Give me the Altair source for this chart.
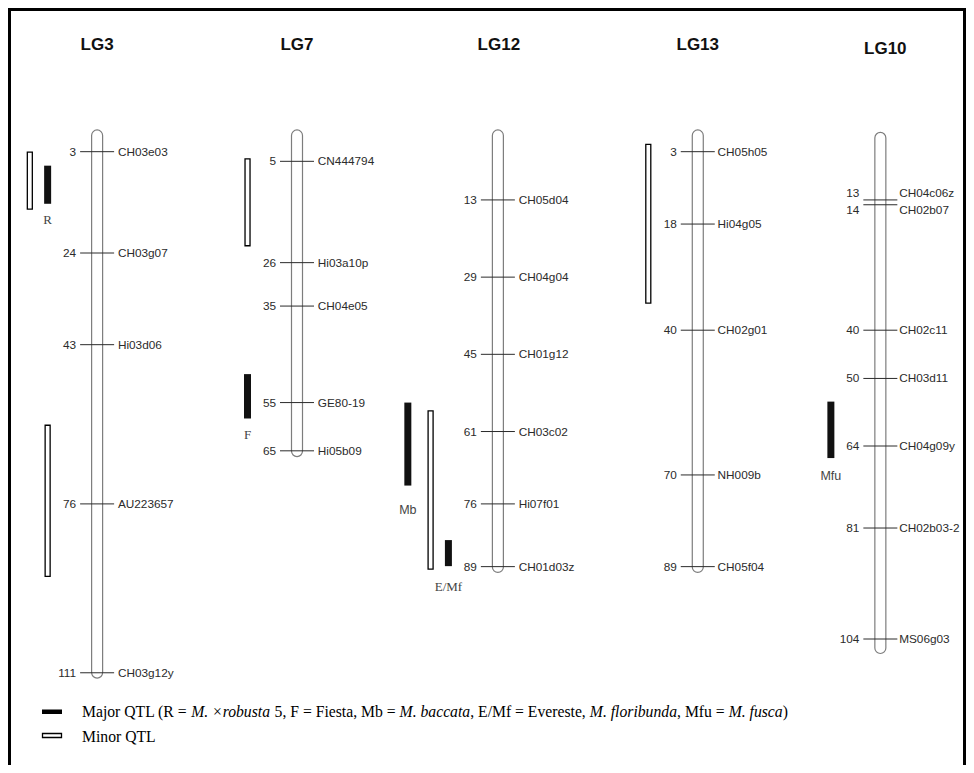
import altair as alt
import pandas as pd

# ---------------- data ----------------
LGS = ["LG3", "LG7", "LG12", "LG13", "LG10"]

LG3_POS = [3, 24, 43, 76, 111]
LG3_NAMES = ["CH03e03", "CH03g07", "Hi03d06", "AU223657", "CH03g12y"]
LG7_POS = [5, 26, 35, 55, 65]
LG7_NAMES = ["CN444794", "Hi03a10p", "CH04e05", "GE80-19", "Hi05b09"]
LG12_POS = [13, 29, 45, 61, 76, 89]
LG12_NAMES = ["CH05d04", "CH04g04", "CH01g12", "CH03c02", "Hi07f01", "CH01d03z"]
LG13_POS = [3, 18, 40, 70, 89]
LG13_NAMES = ["CH05h05", "Hi04g05", "CH02g01", "NH009b", "CH05f04"]
LG10_POS = [13, 14, 40, 50, 64, 81, 104]
LG10_NAMES = ["CH04c06z", "CH02b07", "CH02c11", "CH03d11", "CH04g09y", "CH02b03-2", "MS06g03"]

# chromosome extents (cM)
CHR_START = [-1.5, -1.5, -1.5, -1.5, -1.0]
CHR_END = [112.1, 66.2, 90.2, 90.2, 107.0]

# QTL intervals (cM)
QTL_LG = ["LG3", "LG3", "LG3", "LG7", "LG7", "LG12", "LG12", "LG12", "LG13", "LG10"]
QTL_TYPE = ["Minor", "Major", "Minor", "Minor", "Major", "Major", "Minor", "Major", "Minor", "Major"]
QTL_START = [3.1, 5.9, 59.7, 4.5, 49.1, 55.0, 56.7, 83.5, 1.5, 54.8]
QTL_END = [14.9, 13.8, 91.0, 22.5, 58.3, 72.2, 89.5, 88.9, 34.4, 66.5]
QTL_LABEL = ["", "R", "", "", "F", "Mb", "", "E/Mf", "", "Mfu"]
QTL_LANE = [1, 0, 0, 0, 0, 2, 1, 0, 0, 0]

LEGEND_MAJOR = [
    ("Major QTL (R = ", False), ("M. \u00d7robusta", True), (" 5, F = Fiesta, Mb = ", False),
    ("M. baccata", True), (", E/Mf = Evereste, ", False), ("M. floribunda", True),
    (", Mfu = ", False), ("M. fusca", True), (")", False),
]
LEGEND_MINOR = "Minor QTL"

# ---------------- layout / style ----------------
W, H = 958, 757
PX_PER_CM = 4.825
Y_ZERO = 129.2  # chart-px of 0 cM
Y0 = -Y_ZERO / PX_PER_CM
Y1 = (H - Y_ZERO) / PX_PER_CM
LG_X = {"LG3": 85, "LG7": 287, "LG12": 490, "LG13": 692, "LG10": 876.5}
TITLE_DX = {"LG3": 0, "LG7": 0, "LG12": 1, "LG13": 0, "LG10": 5}
TITLE_Y = {"LG3": 37, "LG7": 37, "LG12": 37, "LG13": 37, "LG10": 41}
NAME_DX = {"LG3": 21, "LG7": 21, "LG12": 21, "LG13": 20, "LG10": 19}
LANE_DX = {0: -50, 1: -68, 2: -91}
LABEL_NUDGE = {("LG10", 13): -7, ("LG10", 14): 5}
QTL_LABEL_DY = {"R": 16, "F": 17, "Mb": 24, "E/Mf": 21, "Mfu": 18}
QTL_LABEL_FONT = {"R": "serif", "F": "serif", "Mb": "sans", "E/Mf": "serif", "Mfu": "sans"}
SANS = "Liberation Sans"
SERIF = "Liberation Serif"
INK = "#2b2b2b"
MK_FS = 11.8

YS = alt.Scale(domain=[Y0, Y1], reverse=True, nice=False, zero=False)
XS = alt.Scale(domain=[0, W], range=[0, W], nice=False, zero=False)

# ---------------- tables ----------------
rows = []
for lg, pos, names in zip(LGS, [LG3_POS, LG7_POS, LG12_POS, LG13_POS, LG10_POS],
                          [LG3_NAMES, LG7_NAMES, LG12_NAMES, LG13_NAMES, LG10_NAMES]):
    for p, n in zip(pos, names):
        nud = LABEL_NUDGE.get((lg, p), 0)
        rows.append({"lg": lg, "cx": LG_X[lg], "nx": LG_X[lg] + NAME_DX[lg], "pos": p,
                     "num": str(p), "name": n, "ly": p + nud / PX_PER_CM})
markers = pd.DataFrame(rows)

chrom = pd.DataFrame({"lg": LGS, "start": CHR_START, "end": CHR_END})
chrom["cx"] = chrom["lg"].map(LG_X)

qtl = pd.DataFrame({"lg": QTL_LG, "type": QTL_TYPE, "start": QTL_START, "end": QTL_END,
                    "label": QTL_LABEL, "lane": QTL_LANE})
qtl["qx"] = qtl["lg"].map(LG_X) + qtl["lane"].map(LANE_DX)
qlab = qtl[qtl["label"] != ""].copy()
qlab["ly"] = qlab["end"] + qlab["label"].map(QTL_LABEL_DY) / PX_PER_CM
qlab["font"] = qlab["label"].map(QTL_LABEL_FONT)

titles = pd.DataFrame({"lg": LGS})
titles["tx"] = titles["lg"].map(LG_X) + titles["lg"].map(TITLE_DX)
titles["ty"] = titles["lg"].map(TITLE_Y)

# Times-compatible advance widths (per 1000 em) to place the mixed-style legend text
ROMAN = {" ": 250, "(": 333, ")": 333, ",": 250, ".": 250, "/": 278, "=": 564, "5": 500,
         "E": 611, "F": 556, "L": 611, "M": 889, "Q": 722, "R": 667, "T": 611,
         "a": 444, "b": 500, "e": 444, "f": 333, "i": 278, "j": 278, "o": 500, "r": 333,
         "s": 389, "t": 278, "u": 500, "v": 500}
ITALIC = {" ": 250, ".": 250, "M": 833, "\u00d7": 675, "a": 500, "b": 500, "c": 444, "d": 500,
          "f": 278, "i": 278, "l": 278, "n": 500, "o": 500, "r": 389, "s": 389, "t": 278,
          "u": 500}
LEG_FS = 15.7
LEG_X0 = 74


def adv(txt, tbl):
    return sum(tbl.get(c, 500) for c in txt) * LEG_FS / 1000.0


seg_rows = []
x = LEG_X0
for txt, it in LEGEND_MAJOR:
    tbl = ITALIC if it else ROMAN
    lead = len(txt) - len(txt.lstrip(" "))
    seg_rows.append({"x": x + adv(" " * lead, tbl), "text": txt.strip(" "), "italic": it})
    x += adv(txt, tbl)
segs = pd.DataFrame(seg_rows)

one = pd.DataFrame({"a": [0]})

# ---------------- layers ----------------
frame = [
    alt.Chart(one).mark_rule(color="black", strokeWidth=3).encode(
        x=alt.value(1.5), y=alt.value(0), y2=alt.value(H)),
    alt.Chart(one).mark_rule(color="black", strokeWidth=3).encode(
        x=alt.value(0), x2=alt.value(W), y=alt.value(1.5)),
    alt.Chart(one).mark_rule(color="black", strokeWidth=3).encode(
        x=alt.value(W - 1.5), y=alt.value(0), y2=alt.value(H)),
]

chrom_layer = alt.Chart(chrom).mark_bar(
    width=11, cornerRadius=5.5, fill="white", stroke="#7d7d7d", strokeWidth=1.2
).encode(
    x=alt.X("cx:Q", scale=XS, axis=None),
    y=alt.Y("start:Q", scale=YS, axis=None),
    y2="end:Q",
)

minor_layer = alt.Chart(qtl[qtl["type"] == "Minor"]).mark_bar(
    width=5, fill="white", stroke="black", strokeWidth=1.3
).encode(x=alt.X("qx:Q", scale=XS, axis=None), y=alt.Y("start:Q", scale=YS, axis=None), y2="end:Q")

major_layer = alt.Chart(qtl[qtl["type"] == "Major"]).mark_bar(
    width=7, fill="#111111", stroke=None
).encode(x=alt.X("qx:Q", scale=XS, axis=None), y=alt.Y("start:Q", scale=YS, axis=None), y2="end:Q")

tick_layer = alt.Chart(markers).mark_rule(
    xOffset=-17, x2Offset=17, color=INK, strokeWidth=1
).encode(x=alt.X("cx:Q", scale=XS, axis=None), x2="cx:Q", y=alt.Y("pos:Q", scale=YS, axis=None))

num_layer = alt.Chart(markers).mark_text(
    align="right", baseline="middle", dx=-21, font=SANS, fontSize=MK_FS, color=INK
).encode(x=alt.X("cx:Q", scale=XS, axis=None), y=alt.Y("ly:Q", scale=YS, axis=None), text="num:N")

name_layer = alt.Chart(markers).mark_text(
    align="left", baseline="middle", font=SANS, fontSize=MK_FS, color=INK
).encode(x=alt.X("nx:Q", scale=XS, axis=None), y=alt.Y("ly:Q", scale=YS, axis=None), text="name:N")

qlab_serif = alt.Chart(qlab[qlab["font"] == "serif"]).mark_text(
    align="center", baseline="middle", font=SERIF, fontSize=13, color="#444444"
).encode(x=alt.X("qx:Q", scale=XS, axis=None), y=alt.Y("ly:Q", scale=YS, axis=None), text="label:N")

qlab_sans = alt.Chart(qlab[qlab["font"] == "sans"]).mark_text(
    align="center", baseline="middle", font=SANS, fontSize=12.5, color="#444444"
).encode(x=alt.X("qx:Q", scale=XS, axis=None), y=alt.Y("ly:Q", scale=YS, axis=None), text="label:N")

title_layer = alt.Chart(titles).mark_text(
    align="center", baseline="middle", font=SANS, fontSize=17, fontWeight="bold", color="#111111"
).encode(x=alt.X("tx:Q", scale=XS, axis=None), y=alt.Y("ty:Q", scale=None), text="lg:N")

leg_major_sym = alt.Chart(one).mark_rect(color="black").encode(
    x=alt.value(34), x2=alt.value(54), y=alt.value(701.5), y2=alt.value(706))
leg_minor_sym = alt.Chart(one).mark_rect(fill="white", stroke="black", strokeWidth=1.3).encode(
    x=alt.value(34.5), x2=alt.value(53.5), y=alt.value(725.5), y2=alt.value(729.5))

leg_roman = alt.Chart(segs[~segs["italic"]]).mark_text(
    align="left", baseline="middle", font=SERIF, fontSize=LEG_FS, color="black"
).encode(x=alt.X("x:Q", scale=None), y=alt.value(704), text="text:N")
leg_italic = alt.Chart(segs[segs["italic"]]).mark_text(
    align="left", baseline="middle", font=SERIF, fontSize=LEG_FS, fontStyle="italic", color="black"
).encode(x=alt.X("x:Q", scale=None), y=alt.value(704), text="text:N")
leg_minor_txt = alt.Chart(pd.DataFrame({"text": [LEGEND_MINOR]})).mark_text(
    align="left", baseline="middle", font=SERIF, fontSize=LEG_FS, color="black"
).encode(x=alt.value(LEG_X0), y=alt.value(729), text="text:N")

chart = alt.layer(
    *frame, chrom_layer, minor_layer, major_layer, tick_layer, num_layer, name_layer,
    qlab_serif, qlab_sans, title_layer, leg_major_sym, leg_minor_sym,
    leg_roman, leg_italic, leg_minor_txt,
).properties(
    width=W, height=H, padding=0, autosize=alt.AutoSizeParams(type="none"), background="white"
).configure_view(stroke=None)

chart.save("out.html", embed_options={"renderer": "svg", "actions": False})
